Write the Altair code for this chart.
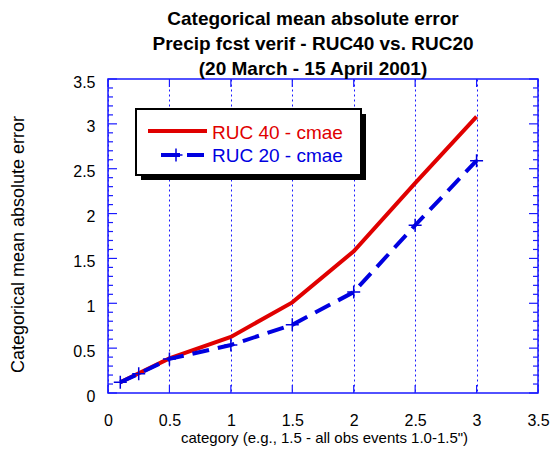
import altair as alt
import pandas as pd

# ---- data ----
series_names = ["RUC 40 - cmae", "RUC 20 - cmae"]
cat_ruc40 = [0.1, 0.5, 1.0, 1.5, 2.0, 2.5, 3.0]
cmae_ruc40 = [0.12, 0.385, 0.625, 1.01, 1.58, 2.34, 3.08]
cat_ruc20 = [0.1, 0.25, 0.5, 1.0, 1.5, 2.0, 2.5, 3.0]
cmae_ruc20 = [0.12, 0.215, 0.38, 0.535, 0.76, 1.125, 1.87, 2.59]

x_ticks = [0, 0.5, 1, 1.5, 2, 2.5, 3, 3.5]
y_ticks = [0, 0.5, 1, 1.5, 2, 2.5, 3, 3.5]
y_minor = [round(i * 0.1, 1) for i in range(36) if i % 5 != 0]

title_lines = ["Categorical mean absolute error",
               "Precip fcst verif - RUC40 vs. RUC20",
               "(20 March - 15 April 2001)"]
x_title = 'category (e.g., 1.5 - all obs events 1.0-1.5")'
y_title = "Categorical mean absolute error"

RED = "#e00000"
BLUE = "#0000e0"
AXBLUE = "#1a1aff"
FONT = "Liberation Sans"
W, H = 430, 314

df40 = pd.DataFrame({"category": cat_ruc40, "cmae": cmae_ruc40})
df20 = pd.DataFrame({"category": cat_ruc20, "cmae": cmae_ruc20})

xs = alt.Scale(domain=[0, 3.5], nice=False, zero=False)
ys = alt.Scale(domain=[0, 3.5], nice=False, zero=False)

x_axis = alt.Axis(values=x_ticks, title=x_title, format="~g", grid=True, gridColor=AXBLUE,
                  gridDash=[2, 3], gridWidth=1, domain=False, ticks=False, tickSize=0,
                  labelFont=FONT, labelFontSize=16, labelColor="black", labelPadding=19,
                  labelFlush=False, labelOverlap=False,
                  titleFont=FONT, titleFontSize=15, titleFontWeight="normal",
                  titleColor="black", titleX=216, titleY=49, titleAlign="center",
                  titleBaseline="alphabetic")
y_axis = alt.Axis(values=y_ticks, title=y_title, format="~g", grid=False, domain=False,
                  ticks=False, tickSize=0, labelFont=FONT, labelFontSize=16,
                  labelColor="black", labelPadding=13, labelOffset=3, labelFlush=False,
                  labelOverlap=False,
                  titleFont=FONT, titleFontSize=18, titleFontWeight="normal",
                  titleColor="black", titleAngle=270, titleX=-90, titleY=165,
                  titleAlign="center", titleBaseline="middle")

X = lambda f: alt.X(f, scale=xs, axis=x_axis)
Y = lambda f: alt.Y(f, scale=ys, axis=y_axis)

line40 = alt.Chart(df40).mark_line(color=RED, strokeWidth=4).encode(
    x=X("category:Q"), y=Y("cmae:Q"))
line20 = alt.Chart(df20).mark_line(color=BLUE, strokeWidth=4, strokeDash=[17, 9]).encode(
    x=X("category:Q"), y=Y("cmae:Q"))
plus_shape = "M-1,0L1,0M0,-1L0,1"
pts20 = alt.Chart(df20).mark_point(shape=plus_shape, size=169, color=BLUE,
                                   strokeWidth=1.5, filled=False, opacity=1).encode(
    x=X("category:Q"), y=Y("cmae:Q"))

# inward ticks on all four sides
def yticks(vals, length):
    d = pd.DataFrame({"category": [0.0] * len(vals), "cmae": vals})
    left = alt.Chart(d).mark_rule(color=AXBLUE, strokeWidth=1.2).encode(
        y=Y("cmae:Q"), x=alt.value(0), x2=alt.value(length))
    right = alt.Chart(d).mark_rule(color=AXBLUE, strokeWidth=1.2).encode(
        y=Y("cmae:Q"), x=alt.value(W - length), x2=alt.value(W))
    return [left, right]

def xticks(vals, length):
    d = pd.DataFrame({"category": vals})
    bottom = alt.Chart(d).mark_rule(color=AXBLUE, strokeWidth=1.2).encode(
        x=X("category:Q"), y=alt.value(H - length), y2=alt.value(H))
    top = alt.Chart(d).mark_rule(color=AXBLUE, strokeWidth=1.2).encode(
        x=X("category:Q"), y=alt.value(0), y2=alt.value(length))
    return [bottom, top]

tick_layers = yticks(y_ticks, 9) + yticks(y_minor, 5) + xticks(x_ticks, 8)

# legend (boxed, with drop shadow)
lab40 = pd.DataFrame({"label": [series_names[0]]})
lab20 = pd.DataFrame({"label": [series_names[1]]})
shadow = alt.Chart(lab40).mark_rect(color="black").encode(
    x=alt.value(33), x2=alt.value(258), y=alt.value(35), y2=alt.value(101))
box = alt.Chart(lab40).mark_rect(fill="white", stroke="black", strokeWidth=2).encode(
    x=alt.value(28), x2=alt.value(253), y=alt.value(30), y2=alt.value(96))
leg_red = alt.Chart(lab40).mark_rule(color=RED, strokeWidth=4).encode(
    x=alt.value(40), x2=alt.value(99), y=alt.value(52))
leg_blue = alt.Chart(lab20).mark_rule(color=BLUE, strokeWidth=4, strokeDash=[19, 7]).encode(
    x=alt.value(53), x2=alt.value(96), y=alt.value(76))
leg_plus = alt.Chart(lab20).mark_point(shape=plus_shape, size=169, color=BLUE,
                                       strokeWidth=1.5, filled=False, opacity=1).encode(
    x=alt.value(68), y=alt.value(76))
txt40 = alt.Chart(lab40).mark_text(color=RED, font=FONT, fontSize=19, align="left",
                                   baseline="middle").encode(
    text="label:N", x=alt.value(104), y=alt.value(54))
txt20 = alt.Chart(lab20).mark_text(color=BLUE, font=FONT, fontSize=19, align="left",
                                   baseline="middle").encode(
    text="label:N", x=alt.value(104), y=alt.value(77))

chart = alt.layer(
    line40, *tick_layers, line20, pts20,
    shadow, box, leg_red, leg_blue, leg_plus, txt40, txt20,
).properties(
    width=W, height=H,
    title=alt.TitleParams(text=title_lines, font=FONT, fontSize=19, fontWeight="bold",
                          color="black", anchor="middle", frame="group", dx=-10,
                          dy=8.5, lineHeight=25, offset=4),
    autosize=alt.AutoSizeParams(type="none"),
    padding={"left": 100, "top": 71, "right": 13, "bottom": 55},
).configure_view(stroke=AXBLUE, strokeWidth=1.5)

chart.save("out.html", embed_options={"renderer": "svg", "actions": False})
